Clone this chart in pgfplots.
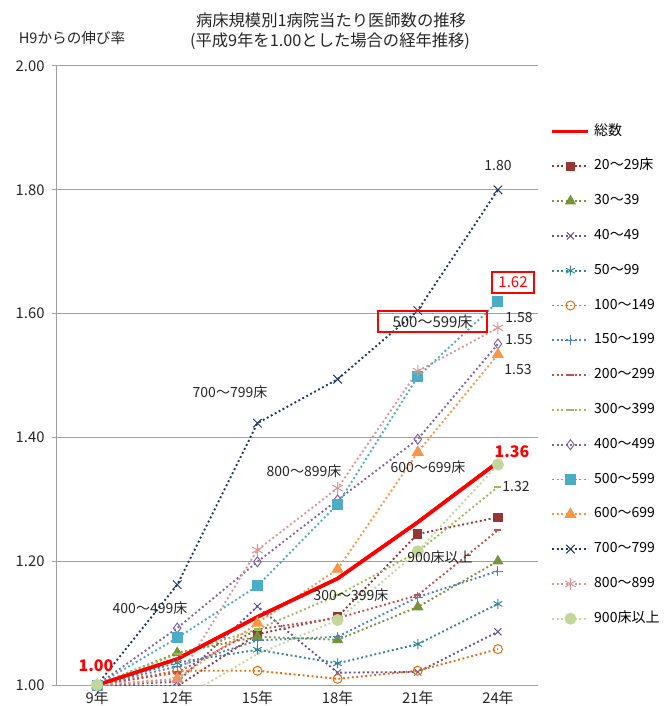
\documentclass[border=0pt]{standalone}
\usepackage{fontspec}
\setmainfont{Noto Sans CJK JP}
\usepackage{pgfplots}
\usepackage{pgfplotstable}
\pgfplotsset{compat=1.18}
\definecolor{ctot}{RGB}{255,0,0}
\definecolor{c20}{RGB}{150,55,52}
\definecolor{c30}{RGB}{119,147,60}
\definecolor{c40}{RGB}{106,84,150}
\definecolor{c50}{RGB}{49,133,156}
\definecolor{c100}{RGB}{228,108,10}
\definecolor{c150}{RGB}{79,129,189}
\definecolor{c200}{RGB}{192,80,77}
\definecolor{c300}{RGB}{155,187,89}
\definecolor{c400}{RGB}{128,100,162}
\definecolor{c500}{RGB}{75,172,198}
\definecolor{c600}{RGB}{247,150,70}
\definecolor{c700}{RGB}{31,56,100}
\definecolor{c800}{RGB}{217,150,148}
\definecolor{c900}{RGB}{195,214,155}
\definecolor{axgray}{RGB}{160,160,160}
\pgfplotstableread{
x tot s20 s30 s40 s50 s100 s150 s200 s300 s400 s500 s600 s700 s800 s900
0 1.000 1.000 1.000 1.000 1.000 1.000 1.000 1.000 1.000 1.000 1.000 1.000 1.000 1.000 1.000
1 1.042 0.998 1.052 1.005 1.036 1.023 1.030 1.020 1.050 1.092 1.076 1.010 1.162 1.008 0.974
2 1.110 1.082 1.078 1.127 1.057 1.023 1.072 1.090 1.090 1.199 1.160 1.100 1.423 1.218 1.050
3 1.172 1.110 1.073 1.020 1.035 1.010 1.078 1.108 1.145 1.299 1.292 1.187 1.494 1.318 1.105
4 1.263 1.244 1.126 1.021 1.066 1.023 1.142 1.145 1.215 1.397 1.498 1.376 1.605 1.507 1.216
5 1.360 1.271 1.200 1.086 1.131 1.058 1.184 1.250 1.320 1.551 1.619 1.534 1.800 1.577 1.356
}\data
\newcommand{\lf}{\fontsize{14}{16}\selectfont}
\newcommand{\tf}{\fontsize{14.8}{16}\selectfont}
\begin{document}
\begin{tikzpicture}[x=1pt,y=1pt]
\begin{axis}[
  name=ax, at={(0,0)}, anchor=south west,
  scale only axis, width=481pt, height=619pt,
  xmin=-0.5, xmax=5.5, ymin=1, ymax=2,
  xtick={0,1,2,3,4,5},
  xticklabels={9年,12年,15年,18年,21年,24年},
  xticklabel style={yshift=3pt},
  minor xtick={-0.5,0.5,1.5,2.5,3.5,4.5,5.5},
  ytick={1,1.2,1.4,1.6,1.8,2},
  yticklabel style={xshift=-4pt, /pgf/number format/.cd, fixed, fixed zerofill, precision=2},
  /pgf/number format/assume math mode=true,
  tick label style={font=\tf, text=black!85},
  ymajorgrids, grid style={axgray, line width=1pt},
  axis x line*=bottom, axis y line*=left,
  axis line style={axgray, line width=1pt, -},
  tick align=outside,
  major tick length=5pt, minor tick length=5pt,
  xtick style={draw=none},
  minor tick style={axgray, line width=1pt},
  ytick style={axgray, line width=1pt},
  legend cell align=left,
  legend style={at={(axis description cs:1.026,0.905)}, anchor=north west,
    draw=none, fill=none, font=\lf, inner sep=0pt, row sep=21.8pt, column sep=4pt,
    nodes={inner sep=0pt, text height=10pt, text depth=3pt}},
  legend image code/.code={\draw[mark repeat=2,mark phase=2] plot coordinates {(0pt,0pt) (18pt,0pt) (36pt,0pt)};},
  dl/.style={line width=1.9pt, dash pattern=on 1.9pt off 2.6pt},
  every axis plot/.append style={mark options={solid, line width=1pt}},
]
\addplot[ctot, line width=3.5pt] table[y=tot] {\data};
\addplot[c20, dl, mark=square*, mark size=4.2pt] table[y=s20] {\data};
\addplot[c30, dl, mark=triangle*, mark size=5.5pt] table[y=s30] {\data};
\addplot[c40, dl, mark=x, mark size=5pt] table[y=s40] {\data};
\addplot[c50, dl, mark=asterisk, mark size=5pt] table[y=s50] {\data};
\addplot[c100, dl, mark=o, mark size=4.5pt] table[y=s100] {\data};
\addplot[c150, dl, mark=+, mark size=5pt] table[y=s150] {\data};
\addplot[c200, dl, mark=-, mark size=3.5pt, mark options={solid, line width=2.5pt}] table[y=s200] {\data};
\addplot[c300, dl, mark=-, mark size=3.5pt, mark options={solid, line width=2.5pt}] table[y=s300] {\data};
\addplot[c400, dl, mark=diamond, mark size=5pt] table[y=s400] {\data};
\addplot[c500, dl, mark=square*, mark size=5pt] table[y=s500] {\data};
\addplot[c600, dl, mark=triangle*, mark size=6pt] table[y=s600] {\data};
\addplot[c700, dl, mark=x, mark size=6pt] table[y=s700] {\data};
\addplot[c800, dl, mark=asterisk, mark size=6pt] table[y=s800] {\data};
\addplot[c900, dl, mark=*, mark size=5.5pt, mark indices={1,3,4,5,6},
  legend image code/.code={\draw[mark indices={2}] plot coordinates {(0pt,0pt) (18pt,0pt) (36pt,0pt)};}] table[y=s900] {\data};
\addplot[ctot, line width=3.5pt, forget plot] table[y=tot] {\data};
\legend{総数,20～29床,30～39,40～49,50～99,100～149,150～199,200～299,300～399,400～499,500～599,600～699,700～799,800～899,900床以上}
\end{axis}
\pgfresetboundingbox
\path[use as bounding box] (ax.south west) ++(-57,-21) rectangle ++(667,706);
\begin{scope}[shift={(ax.south west)}, shift={(-57,-21)}]
% titles
\node[font=\fontsize{16.3}{18}\selectfont, text=black!85] at (331,686) {病床規模別1病院当たり医師数の推移};
\node[font=\fontsize{16.3}{18}\selectfont, text=black!85] at (330,665) {(平成9年を1.00とした場合の経年推移)};
\node[font=\fontsize{14.6}{16}\selectfont, text=black!85] at (72,668) {H9からの伸び率};
% data labels
\node[font=\fontsize{16}{18}\selectfont\bfseries, text=red] at (96,40) {1.00};
\node[font=\fontsize{16}{18}\selectfont\bfseries, text=red] at (512,254) {1.36};
\node[font=\fontsize{15}{18}\selectfont, text=red, draw=red, line width=1.2pt, minimum width=42pt, minimum height=21pt, inner sep=0pt] at (513,423.5) {1.62};
\node[font=\fontsize{15}{18}\selectfont, text=black!85, draw=red, line width=1.2pt, minimum width=109pt, minimum height=21pt, inner sep=0pt] at (432.5,384.5) {500～599床};
\node[font=\lf, text=black!85] at (498,540) {1.80};
\node[font=\lf, text=black!85] at (519,388) {1.58};
\node[font=\lf, text=black!85] at (519,366) {1.55};
\node[font=\lf, text=black!85] at (518,336) {1.53};
\node[font=\lf, text=black!85] at (516,219) {1.32};
\node[font=\lf, text=black!85] at (428,239) {600～699床};
\node[font=\lf, text=black!85] at (230,314) {700～799床};
\node[font=\lf, text=black!85] at (304,235) {800～899床};
\node[font=\lf, text=black!85] at (150,98) {400～499床};
\node[font=\lf, text=black!85] at (351,111) {300～399床};
\node[font=\lf, text=black!85] at (440,149) {900床以上};
\end{scope}
\end{tikzpicture}
\end{document}
